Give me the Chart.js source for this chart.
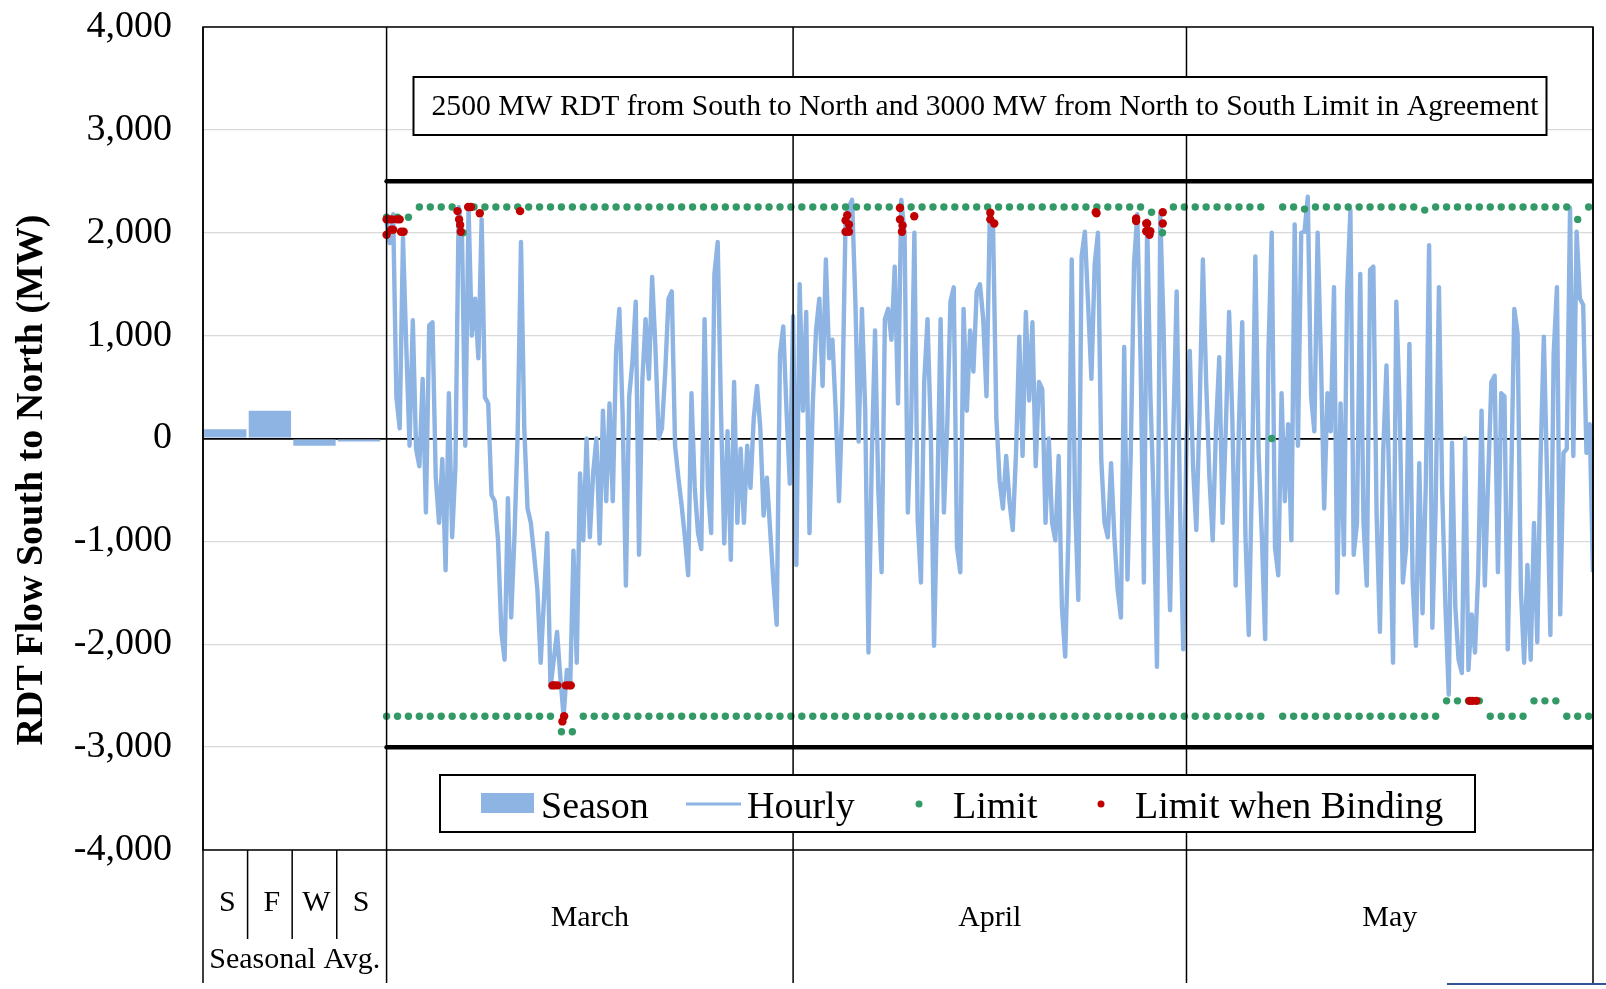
<!DOCTYPE html>
<html>
<head>
<meta charset="utf-8">
<style>
  html, body { margin: 0; padding: 0; background: #fff; overflow: hidden; }
  canvas { display: block; }
</style>
</head>
<body>
<canvas id="rdtChart" width="1606" height="989"></canvas>
<script src="https://cdn.jsdelivr.net/npm/chart.js"></script>
<script>
// seasonal average flow (MW)
const seasonLabels = ["S", "F", "W", "S"];
const seasonFlow = [90, 270, -70, -30];

const monthLabels = ["March", "April", "May"];
const monthStartDay = [0, 31, 61, 92];

const flowStepHours = 6;
const marchFlow = [
  2100, 1900, 2180, 400,   100, 1950, 900, -70,    1150, -100, -270, 580,
  -720, 1100, 1130, -380,  -820, -200, -1280, 440, -960, -270, 2250, 2000,
  -70, 2250, 1000, 1360,   780, 2130, 400, 340,    -550, -610, -990, -1880,
  -2150, -580, -1740, -960, 70, 1910, 100, -680,   -820, -1130, -1470, -2180,
  -1570, -920, -2420, -2150, -1880, -2320, -2700, -2250, -2420, -1090, -2180, -340,
  -990, 0, -960, -340,     0, -1020, 270, -610,    340, -610, 850, 1260,
  240, -1430, 410, 750,    1330, -1130, 550, 1160, 580, 1570, 890, 0,
  100, 650, 1360, 1430,    -70, -380, -650, -960,  -1330, 440, -480, -920,
  -1075, 1160, -480, -920, 1600, 1910, 270, -1020, 70, -1180, 550, -820,
  -100, -820, -70, -480,   200, 510, 100, -750,     -380, -890, -1400, -1810,
  820, 1090, 270, -440
];
const aprilFlow = [
  1190, -1230, 1500, 270,  1230, -920, 340, 1050,  1360, 510, 1740, 780,
  960, 270, -610, 310,     2115, 2250, 2320, 1330, -30, 1260, 270, -2080,
  -200, 1050, -510, -1300, 1160, 1260, 960, 1670,  340, 2320, 2000, -720,
  140, 2000, -790, -1400,  550, 1160, 70, -2015,   -550, 1160, -720, 100,
  1330, 1470, -1060, -1300, 1260, 270, 1050, 650, 1430, 1500, 1160, 410,
  2180, 2050, 200, -410,   -680, -170, -610, -890, -140, 990, -170, 1230,
  370, 1130, -270, 550,    480, -820, 0, -820,     -990, -170, -1640, -2120,
  -920, 1740, -610, -1570, 1770, 2010, 1300, 580,  1700, 2000, -200, -820,
  -960, -240, -960, -1470, -1740, 890, -1370, -140, 1700, 2180, 750, -1400,
  2120, 410, -610, -2220,  2180, 1090, -610, -1670, 100, 1430, -610, -2050
];
const mayFlow = [
  -30, 850, -270, -890,    270, 1740, 550, -380,   -990, 100, 790, -820,
  100, 1230, 170, -1430,   140, 1130, -960, -1910, -340, 1770, -140, -960,
  -1950, 850, 2000, -1060, -1330, 440, -610, 140,  -990, 2080, -70, 2000,
  2010, 2350, 410, 70,     2000, 790, -680, 440,   70, 1470, -1500, 340,
  -1130, 1430, 2220, -1130, -820, 1600, -820, -1430, 1640, 1670, -750, -1880,
  -140, 710, -680, -2180,  1330, 340, -1400, -1060, 920, -1400, -2015, -240,
  -1700, -440, 1880, -1840, -680, 1470, -510, -1640, -2490, -40, -1640, -2150,
  -2280, 0, -2250, -1710,  -2080, -1300, 270, -1430, -410, 550, 610, -1300,
  440, 410, -2050, -510,   1260, 1020, -1470, -2180, -1230, -2150, -820, -1980,
  -200, 990, -380, -1910,  820, 1470, -1710, -140,  -100, 2240, -170, 2010,
  1360, 1300, -140, 140,   -1300
];

// limit markers, one every 20 hours (null = no marker)
const limitStepHours = 20;
const northLimit = [
  2150, 2150, 2150, 2250, 2250, 2250, 2250, 2000, 2250, 2250,
  2250, 2250, 2250, 2250, 2250, 2250, 2250, 2250, 2250, 2250,
  2250, 2250, 2250, 2250, 2250, 2250, 2250, 2250, 2250, 2250,
  2250, 2250, 2250, 2250, 2250, 2250, 2250, 2250, 2250, 2250,
  2250, 2250, 2250, 2250, 2250, 2250, 2250, 2250, 2250, 2250,
  2250, 2250, 2250, 2250, 2250, 2250, 2250, 2250, 2250, 2250,
  2250, 2250, 2250, 2250, 2250, 2250, 2250, 2250, 2250, 2250,
  2200, 2000, 2250, 2250, 2250, 2250, 2250, 2250, 2250, 2250,
  2250, 0, 2250, 2250, 2230, 2250, 2250, 2250, 2250, 2250,
  2250, 2250, 2250, 2250, 2250, 2220, 2250, 2250, 2250, 2250,
  2250, 2250, 2250, 2250, 2250, 2250, 2250, 2250, 2250, 2130,
  2250
];
const southLimit = [
  -2700, -2700, -2700, -2700, -2700, -2700, -2700, -2700, -2700, -2700,
  -2700, -2700, -2700, -2700, -2700, -2700, -2850, -2850, -2700, -2700,
  -2700, -2700, -2700, -2700, -2700, -2700, -2700, -2700, -2700, -2700,
  -2700, -2700, -2700, -2700, -2700, -2700, -2700, -2700, -2700, -2700,
  -2700, -2700, -2700, -2700, -2700, -2700, -2700, -2700, -2700, -2700,
  -2700, -2700, -2700, -2700, -2700, -2700, -2700, -2700, -2700, -2700,
  -2700, -2700, -2700, -2700, -2700, -2700, -2700, -2700, -2700, -2700,
  -2700, -2700, -2700, -2700, -2700, -2700, -2700, -2700, -2700, -2700,
  -2700, null, -2700, -2700, -2700, -2700, -2700, -2700, -2700, -2700,
  -2700, -2700, -2700, -2700, -2700, -2700, -2700, -2550, -2550, -2550,
  -2550, -2700, -2700, -2700, -2700, -2550, -2550, -2550, -2700, -2700,
  -2700
];

// hours when the limit was binding: day since 1 March, flow (MW)
const bindingDay = [
  0, 0.2, 0.4, 0.8, 1.0, 0, 0.35, 0.5, 1.1, 1.3,
  5.41, 5.53, 5.61, 5.66, 6.22, 6.43, 7.11, 10.18,
  12.65, 12.8, 13.03, 13.67, 13.85, 14.05, 13.54, 13.41,
  35.13, 35.0, 35.26, 35.0, 35.26,
  39.15, 39.15, 39.35, 39.3, 40.24,
  46.04, 46.04, 46.34, 54.08, 54.14,
  57.16, 57.16, 57.93, 58.0, 57.93, 58.18, 58.24, 59.19, 59.19,
  82.59, 82.8, 83.1
];
const bindingFlow = [
  2130, 2130, 2130, 2130, 2130, 1980, 2030, 2030, 2010, 2010,
  2210, 2130, 2075, 2010, 2250, 2250, 2190, 2210,
  -2400, -2400, -2400, -2400, -2400, -2400, -2700, -2750,
  2170, 2120, 2080, 2010, 2010,
  2240, 2130, 2070, 2010, 2160,
  2195, 2130, 2090, 2200, 2190,
  2140, 2115, 2090, 2090, 2015, 1980, 2015, 2200, 2090,
  -2550, -2550, -2550
];

// RDT limits in the agreement (MW)
const agreementNorth = 2500;
const agreementSouth = -3000;

const serif = "'Liberation Serif', 'Times New Roman', serif";
const blue = "#8EB4E3";
const green = "#339966";
const red = "#C00000";

// the seasonal columns sit left of 1 March on the same day axis
const seasonSlot = 3.4;
const xMin = -14;
const xMax = monthStartDay[monthStartDay.length - 1];

const seasonPoints = seasonFlow.map((v, i) => ({ x: xMin + seasonSlot * (i + 0.5), y: v }));
const hourlyPoints = marchFlow.concat(aprilFlow, mayFlow)
  .map((v, i) => ({ x: i * flowStepHours / 24, y: v }));
const limitPoints = [];
[northLimit, southLimit].forEach(arr => arr.forEach((v, i) => {
  if (v !== null) limitPoints.push({ x: i * limitStepHours / 24, y: v });
}));
const bindingPoints = bindingDay.map((d, i) => ({ x: d, y: bindingFlow[i] }));

const decorations = {
  id: "decorations",
  afterDatasetsDraw(chart) {
    const { ctx, chartArea: a, scales: { x } } = chart;
    const tableBottom = 983;
    ctx.save();
    ctx.strokeStyle = "#000";
    ctx.lineWidth = 1.5;
    ctx.strokeRect(a.left, a.top, a.right - a.left, a.bottom - a.top);

    // month dividers, running down through the label table
    const verticals = [a.left].concat(monthStartDay.map(d => x.getPixelForValue(d)));
    ctx.beginPath();
    verticals.forEach(px => { ctx.moveTo(px, a.top); ctx.lineTo(px, tableBottom); });
    for (let k = 1; k < seasonLabels.length; k++) {
      const px = x.getPixelForValue(xMin + seasonSlot * k);
      ctx.moveTo(px, a.bottom); ctx.lineTo(px, 939);
    }
    ctx.stroke();

    // category labels below the plot
    ctx.fillStyle = "#000";
    ctx.textAlign = "center";
    ctx.textBaseline = "alphabetic";
    ctx.font = "30px " + serif;
    seasonLabels.forEach((s, i) => {
      ctx.fillText(s, x.getPixelForValue(xMin + seasonSlot * (i + 0.5)) + 2, 911);
    });
    ctx.fillText("Seasonal Avg.", (a.left + x.getPixelForValue(0)) / 2, 968);
    monthLabels.forEach((m, i) => {
      const c = (x.getPixelForValue(monthStartDay[i]) + x.getPixelForValue(monthStartDay[i + 1])) / 2;
      ctx.fillText(m, c, 926);
    });

    // y axis title
    ctx.save();
    ctx.translate(42, 480);
    ctx.rotate(-Math.PI / 2);
    ctx.font = "bold 38px " + serif;
    ctx.fillText("RDT Flow South to North (MW)", 0, 0);
    ctx.restore();

    // note box
    ctx.fillStyle = "#fff";
    ctx.fillRect(413.5, 77, 1133, 58);
    ctx.lineWidth = 2;
    ctx.strokeRect(413.5, 77, 1133, 58);
    ctx.fillStyle = "#000";
    ctx.font = "30px " + serif;
    ctx.fillText("2500 MW RDT from South to North and 3000 MW from North to South Limit in Agreement", 985, 115, 1107);

    // legend box
    ctx.fillStyle = "#fff";
    ctx.fillRect(440, 775, 1035, 57);
    ctx.strokeRect(440, 775, 1035, 57);
    const keyX = [481, 686, 919, 1101];
    const textX = [541, 747, 953, 1135];
    ctx.font = "38px " + serif;
    ctx.textAlign = "left";
    chart.data.datasets.filter(ds => !ds.hideInLegend).forEach((ds, i) => {
      if (ds.type === "bar") {
        ctx.fillStyle = ds.backgroundColor;
        ctx.fillRect(keyX[i], 793, 53, 20);
      } else if (ds.showLine === false) {
        ctx.fillStyle = ds.pointBackgroundColor;
        ctx.beginPath();
        ctx.arc(keyX[i], 804, 3.5, 0, Math.PI * 2);
        ctx.fill();
      } else {
        ctx.strokeStyle = ds.borderColor;
        ctx.lineWidth = 3;
        ctx.beginPath();
        ctx.moveTo(keyX[i], 804); ctx.lineTo(keyX[i] + 55, 804);
        ctx.stroke();
      }
      ctx.fillStyle = "#000";
      ctx.fillText(ds.label, textX[i], 818);
    });

    // cut-off logo strip at the bottom edge
    ctx.strokeStyle = "#2F5597";
    ctx.lineWidth = 2;
    ctx.beginPath();
    ctx.moveTo(1447, 984); ctx.lineTo(1606, 984);
    ctx.stroke();
    ctx.fillStyle = "#2F5597";
    ctx.font = "bold 24px " + serif;
    ctx.fillText("POTOMAC ECONOMICS", 1452, 1006);
    ctx.restore();
  }
};

new Chart(document.getElementById("rdtChart"), {
  data: {
    datasets: [
      { type: "bar", label: "Season", data: seasonPoints, backgroundColor: blue,
        barPercentage: 0.95, categoryPercentage: 1, order: 5 },
      { type: "line", label: "Hourly", data: hourlyPoints, borderColor: blue, borderWidth: 4.4,
        borderJoinStyle: "round", pointRadius: 0, tension: 0, order: 4 },
      { type: "line", label: "Limit", data: limitPoints, showLine: false,
        backgroundColor: green, pointBackgroundColor: green, pointBorderWidth: 0, pointRadius: 3.7, order: 2 },
      { type: "line", label: "Limit when Binding", data: bindingPoints, showLine: false,
        backgroundColor: red, pointBackgroundColor: red, pointBorderWidth: 0, pointRadius: 4.2, order: 1 },
      { type: "line", label: "North agreement", hideInLegend: true,
        data: [{ x: 0, y: agreementNorth }, { x: xMax, y: agreementNorth }],
        borderColor: "#000", borderWidth: 4.5, borderCapStyle: "round", pointRadius: 0, order: 3 },
      { type: "line", label: "South agreement", hideInLegend: true,
        data: [{ x: 0, y: agreementSouth }, { x: xMax, y: agreementSouth }],
        borderColor: "#000", borderWidth: 4.5, borderCapStyle: "round", pointRadius: 0, order: 3 }
    ]
  },
  options: {
    responsive: false,
    animation: false,
    events: [],
    layout: { padding: { top: 27, right: 13, bottom: 139, left: 0 } },
    plugins: { legend: { display: false }, tooltip: { enabled: false } },
    scales: {
      x: { type: "linear", min: xMin, max: xMax, offset: false, display: false },
      y: {
        min: -4000, max: 4000,
        ticks: {
          stepSize: 1000, padding: 31, color: "#000",
          font: { family: serif, size: 38 },
          callback: v => v.toLocaleString("en-US")
        },
        grid: {
          drawTicks: false,
          color: c => c.tick.value === 0 ? "#000" : "#d9d9d9",
          lineWidth: c => c.tick.value === 0 ? 1.8 : 1.3
        },
        border: { display: false },
        afterFit: s => { s.width = 203; s.paddingTop = 0; s.paddingBottom = 0; }
      }
    }
  },
  plugins: [decorations]
});
</script>
</body>
</html>
